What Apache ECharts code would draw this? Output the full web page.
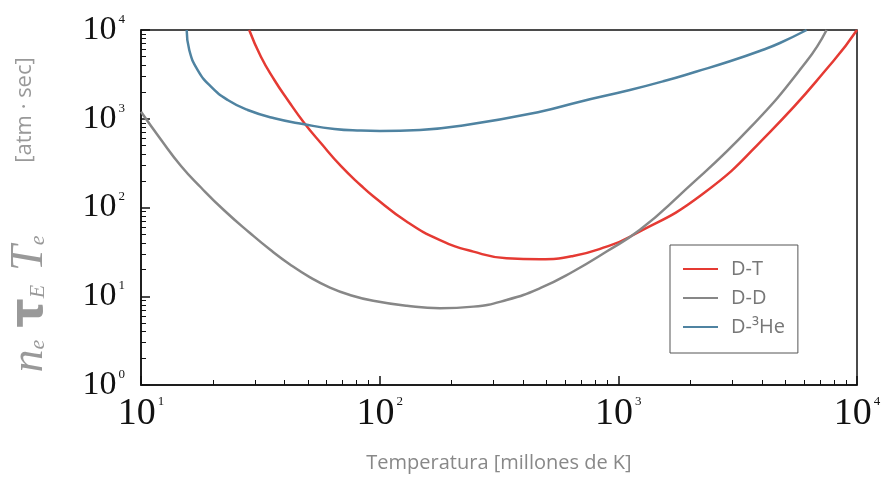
<!DOCTYPE html>
<html><head><meta charset="utf-8">
<script src="https://cdn.jsdelivr.net/npm/echarts@6/dist/echarts.min.js"></script>
<style>html,body{margin:0;padding:0;background:#fff}#c{width:884px;height:478px}</style>
</head><body><div id="c"></div>
<script>
// ---- data ----
const seriesNames = ['D-T', 'D-D', 'D-\u00B3He'];
const dtTemp  = [28.4, 31.8, 36.2, 41.2, 48.3, 56.8, 68.9, 83.5, 94, 130, 179, 247, 340, 470, 647, 893, 1118, 2234, 4316, 7948, 10000];
const dtValue = [10000, 5000, 2733, 1627, 896, 529, 292, 177, 134, 69.2, 43, 31.8, 26.8, 26.1, 28.4, 36.2, 46.8, 139, 709, 4440, 10000];
const ddTemp  = [10, 12.13, 14.71, 17.84, 22.34, 28.6, 34.7, 42.1, 51.1, 61.9, 75.1, 94, 130, 179, 247, 340, 470, 647, 893, 1232, 1812, 3558, 6150, 7458];
const ddValue = [1200, 581, 294, 168, 92.5, 51.6, 33.6, 22.8, 16.35, 12.54, 10.33, 8.89, 7.8, 7.33, 7.64, 9.07, 12.32, 19, 31.9, 56.1, 139, 787, 4440, 10000];
const dheTemp  = [15.54, 15.93, 17.28, 19.65, 23.08, 28, 36.2, 48.3, 64.6, 83.5, 100.3, 147.5, 223, 470, 690, 1118, 1542, 2128, 2934, 4046, 4753, 6150];
const dheValue = [10000, 5950, 3540, 2297, 1627, 1255, 1012, 866, 766, 735, 728, 747, 839, 1201, 1556, 2108, 2642, 3407, 4440, 5998, 7136, 10000];
const xMajorTicks = [10, 100, 1000, 10000];
const xMinorTicks = [20,30,40,50,60,70,80,90,200,300,400,500,600,700,800,900,2000,3000,4000,5000,6000,7000,8000,9000];
const yMajorTicks = [1, 10, 100, 1000, 10000];
const yMinorTicks = [2,3,4,5,6,7,8,9,20,30,40,50,60,70,80,90,200,300,400,500,600,700,800,900,2000,3000,4000,5000,6000,7000,8000,9000];
const xTitle = 'Temperatura [millones de K]';
const yUnit = '[atm \u00B7 sec]';

const zip = (a, b) => a.map((v, i) => [v, b[i]]);
const colors = ['#e53a33', '#878787', '#4f83a1'];
const axisColor = '#111';

function expLabel(v) { return '{b|10}{e|' + Math.round(Math.log10(v)) + '}'; }
function labelRich(size) {
  return {
    b: { fontFamily: 'Liberation Serif', fontSize: size, color: axisColor },
    e: { fontFamily: 'Liberation Serif', fontSize: 13, color: axisColor, verticalAlign: 'top', padding: [0, 0, 0, 2] }
  };
}

const chart = echarts.init(document.getElementById('c'));
chart.setOption({
  animation: false,
  backgroundColor: '#fff',
  grid: { left: 141, right: 27, top: 30, bottom: 93, show: true, borderColor: axisColor, borderWidth: 1.5, backgroundColor: 'transparent', outerBoundsMode: 'none' },
  xAxis: [
    { type: 'log', logBase: 10, min: 10, max: 10000, position: 'bottom',
      axisLine: { show: true, lineStyle: { color: axisColor, width: 1.5 } },
      axisTick: { show: true, inside: true, length: 9, customValues: xMajorTicks, lineStyle: { color: axisColor, width: 1.5 } },
      axisLabel: { customValues: xMajorTicks, formatter: expLabel, rich: labelRich(38), margin: 10 },
      splitLine: { show: false },
      name: xTitle, nameLocation: 'middle', nameGap: 68,
      nameTextStyle: { fontFamily: 'Open Sans', fontSize: 20, color: '#888' } },
    { type: 'log', logBase: 10, min: 10, max: 10000, position: 'bottom',
      axisLine: { show: false },
      axisTick: { show: true, inside: true, length: 5, customValues: xMinorTicks, lineStyle: { color: axisColor, width: 1 } },
      axisLabel: { show: false }, splitLine: { show: false } }
  ],
  yAxis: [
    { type: 'log', logBase: 10, min: 1, max: 10000, position: 'left',
      axisLine: { show: true, lineStyle: { color: axisColor, width: 1.5 } },
      axisTick: { show: true, inside: true, length: 9, customValues: yMajorTicks, lineStyle: { color: axisColor, width: 1.5 } },
      axisLabel: { customValues: yMajorTicks, formatter: expLabel, rich: labelRich(34), margin: 16 },
      splitLine: { show: false } },
    { type: 'log', logBase: 10, min: 1, max: 10000, position: 'left',
      axisLine: { show: false },
      axisTick: { show: true, inside: true, length: 5, customValues: yMinorTicks, lineStyle: { color: axisColor, width: 1 } },
      axisLabel: { show: false }, splitLine: { show: false } }
  ],
  legend: {
    orient: 'vertical', left: 670, top: 245,
    padding: [14, 13, 16, 13], itemGap: 9, itemWidth: 35, itemHeight: 2, icon: 'rect',
    borderColor: '#555', borderWidth: 1, borderRadius: 0,
    textStyle: { fontFamily: 'Open Sans', fontSize: 20, lineHeight: 20, color: '#777', padding: [0, 0, 0, 8] },
    data: seriesNames
  },
  graphic: [
    { type: 'text', x: 30, y: 298, rotation: Math.PI / 2,
      style: {
        text: '{n|n}{s|e}{t|\u03C4}{s2|E}{T|T}{s|e}',
        align: 'center', verticalAlign: 'middle', fill: '#999',
        rich: {
          n: { fontFamily: 'Liberation Serif', fontStyle: 'italic', fontSize: 46, fill: '#999' },
          s: { fontFamily: 'Liberation Serif', fontStyle: 'italic', fontSize: 22, fill: '#999', padding: [16, 12, 0, 0] },
          s2: { fontFamily: 'Liberation Serif', fontStyle: 'italic', fontSize: 22, fill: '#999', padding: [16, 14, 0, 0] },
          t: { fontFamily: 'DejaVu Sans', fontWeight: 'bold', fontSize: 46, fill: '#999' },
          T: { fontFamily: 'Liberation Serif', fontStyle: 'italic', fontSize: 46, fill: '#999' }
        }
      } },
    { type: 'text', x: 25, y: 110, rotation: Math.PI / 2,
      style: { text: yUnit, align: 'center', verticalAlign: 'middle', fill: '#999', fontFamily: 'Open Sans', fontSize: 22 } }
  ],
  series: [
    { name: seriesNames[0], type: 'line', data: zip(dtTemp, dtValue), smooth: 0.5, symbol: 'none', lineStyle: { color: colors[0], width: 2.5 }, itemStyle: { color: colors[0] } },
    { name: seriesNames[1], type: 'line', data: zip(ddTemp, ddValue), smooth: 0.5, symbol: 'none', lineStyle: { color: colors[1], width: 2.5 }, itemStyle: { color: colors[1] } },
    { name: seriesNames[2], type: 'line', data: zip(dheTemp, dheValue), smooth: 0.5, symbol: 'none', lineStyle: { color: colors[2], width: 2.5 }, itemStyle: { color: colors[2] } }
  ]
});
</script>
</body></html>
